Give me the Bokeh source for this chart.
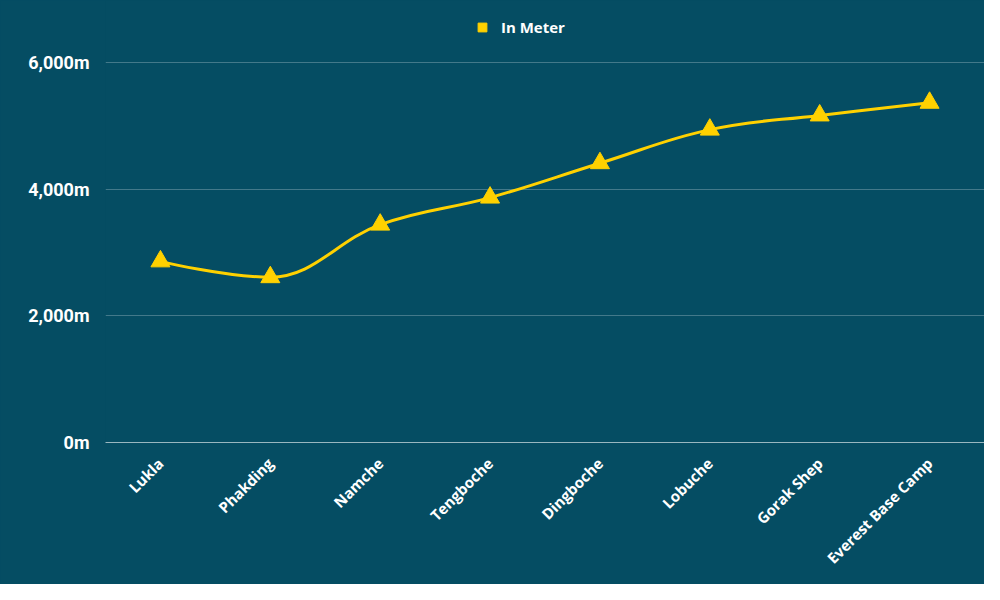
from bokeh.plotting import figure
from bokeh.models import (FixedTicker, Legend, LegendItem, ColumnDataSource, Range1d)
from bokeh.embed import file_html
from bokeh.resources import INLINE

categories = ["Lukla", "Phakding", "Namche", "Tengboche", "Dingboche",
              "Lobuche", "Gorak Shep", "Everest Base Camp"]
altitude_m = [2860, 2610, 3440, 3867, 4410, 4940, 5164, 5364]
y_ticks = [0, 2000, 4000, 6000]
y_tick_labels = ["0m", "2,000m", "4,000m", "6,000m"]
series_name = "In Meter"

BG = "#054d63"
LINE = "#ffd100"

xs = [i + 0.5 for i in range(len(categories))]

# Highcharts-style spline control points computed from the data
def spline_segments(x, y, smoothing=1.5):
    n = len(x)
    left = [(x[i], y[i]) for i in range(n)]
    right = [(x[i], y[i]) for i in range(n)]
    denom = smoothing + 1
    for i in range(1, n - 1):
        lx = (smoothing * x[i] + x[i - 1]) / denom
        ly = (smoothing * y[i] + y[i - 1]) / denom
        rx = (smoothing * x[i] + x[i + 1]) / denom
        ry = (smoothing * y[i] + y[i + 1]) / denom
        if rx != lx:
            corr = (ry - ly) * (rx - x[i]) / (rx - lx) + y[i] - ry
            ly += corr
            ry += corr
        if ly > y[i - 1] and ly > y[i]:
            ly = max(y[i - 1], y[i]); ry = 2 * y[i] - ly
        elif ly < y[i - 1] and ly < y[i]:
            ly = min(y[i - 1], y[i]); ry = 2 * y[i] - ly
        if ry > y[i + 1] and ry > y[i]:
            ry = max(y[i + 1], y[i]); ly = 2 * y[i] - ry
        elif ry < y[i + 1] and ry < y[i]:
            ry = min(y[i + 1], y[i]); ly = 2 * y[i] - ry
        left[i] = (lx, ly)
        right[i] = (rx, ry)
    seg = dict(x0=[], y0=[], x1=[], y1=[], cx0=[], cy0=[], cx1=[], cy1=[])
    for i in range(1, n):
        seg["x0"].append(x[i - 1]); seg["y0"].append(y[i - 1])
        seg["x1"].append(x[i]); seg["y1"].append(y[i])
        seg["cx0"].append(right[i - 1][0]); seg["cy0"].append(right[i - 1][1])
        seg["cx1"].append(left[i][0]); seg["cy1"].append(left[i][1])
    return seg

# frame: top at y=0, 0m at y=442, 6000m at y=62
y_top = 6000 + 62 / 380 * 6000

p = figure(width=984, height=584, output_backend="svg", toolbar_location=None,
           x_range=Range1d(0, len(categories)), y_range=Range1d(0, y_top),
           min_border_left=105, min_border_right=0, min_border_bottom=142,
           min_border_top=0)
p.styles = {"background-color": BG}
p.background_fill_color = BG
p.border_fill_color = BG
p.outline_line_color = None

p.bezier(source=ColumnDataSource(spline_segments(xs, altitude_m)),
         x0="x0", y0="y0", x1="x1", y1="y1", cx0="cx0", cy0="cy0",
         cx1="cx1", cy1="cy1", line_color=LINE, line_width=3)
p.scatter(xs, altitude_m, marker="triangle", size=19, fill_color=LINE,
          line_color=LINE)

# legend proxy: hidden square markers on the same data
leg_r = p.scatter(xs, altitude_m, marker="square", size=12,
                  fill_color=LINE, line_color=LINE, visible=False)

legend = Legend(items=[LegendItem(label=series_name, renderers=[leg_r])],
                orientation="horizontal", location=(366, 404),
                background_fill_alpha=0, border_line_color=None,
                inactive_fill_alpha=0,
                label_text_color="white", label_text_font="Open Sans",
                label_text_font_style="bold", label_text_font_size="15px",
                glyph_width=22, glyph_height=22, label_standoff=8,
                margin=0, padding=4)
p.add_layout(legend, "center")

# grid
p.xgrid.grid_line_color = None
p.ygrid.ticker = FixedTicker(ticks=y_ticks)
p.ygrid.grid_line_color = "white"
p.ygrid.grid_line_alpha = 0.25
p.ygrid.grid_line_width = 1

# y axis
p.yaxis.ticker = FixedTicker(ticks=y_ticks)
p.yaxis.major_label_overrides = {t: l for t, l in zip(y_ticks, y_tick_labels)}
p.yaxis.axis_line_color = None
p.yaxis.major_tick_line_color = None
p.yaxis.minor_tick_line_color = None
p.yaxis.major_label_text_color = "white"
p.yaxis.major_label_text_font = "Roboto"
p.yaxis.major_label_text_font_style = "bold"
p.yaxis.major_label_text_font_size = "18px"
p.yaxis.major_label_standoff = 10

# x axis
p.xaxis.ticker = FixedTicker(ticks=xs)
p.xaxis.major_label_overrides = {x: c for x, c in zip(xs, categories)}
p.xaxis.axis_line_color = "white"
p.xaxis.axis_line_alpha = 0.6
p.xaxis.major_tick_line_color = None
p.xaxis.minor_tick_line_color = None
p.xaxis.major_label_orientation = 0.785398
p.xaxis.major_label_text_color = "white"
p.xaxis.major_label_text_font = "Open Sans"
p.xaxis.major_label_text_font_style = "bold"
p.xaxis.major_label_text_font_size = "15px"
p.xaxis.major_label_standoff = 12

open("out.html", "w").write(file_html(p, INLINE))
